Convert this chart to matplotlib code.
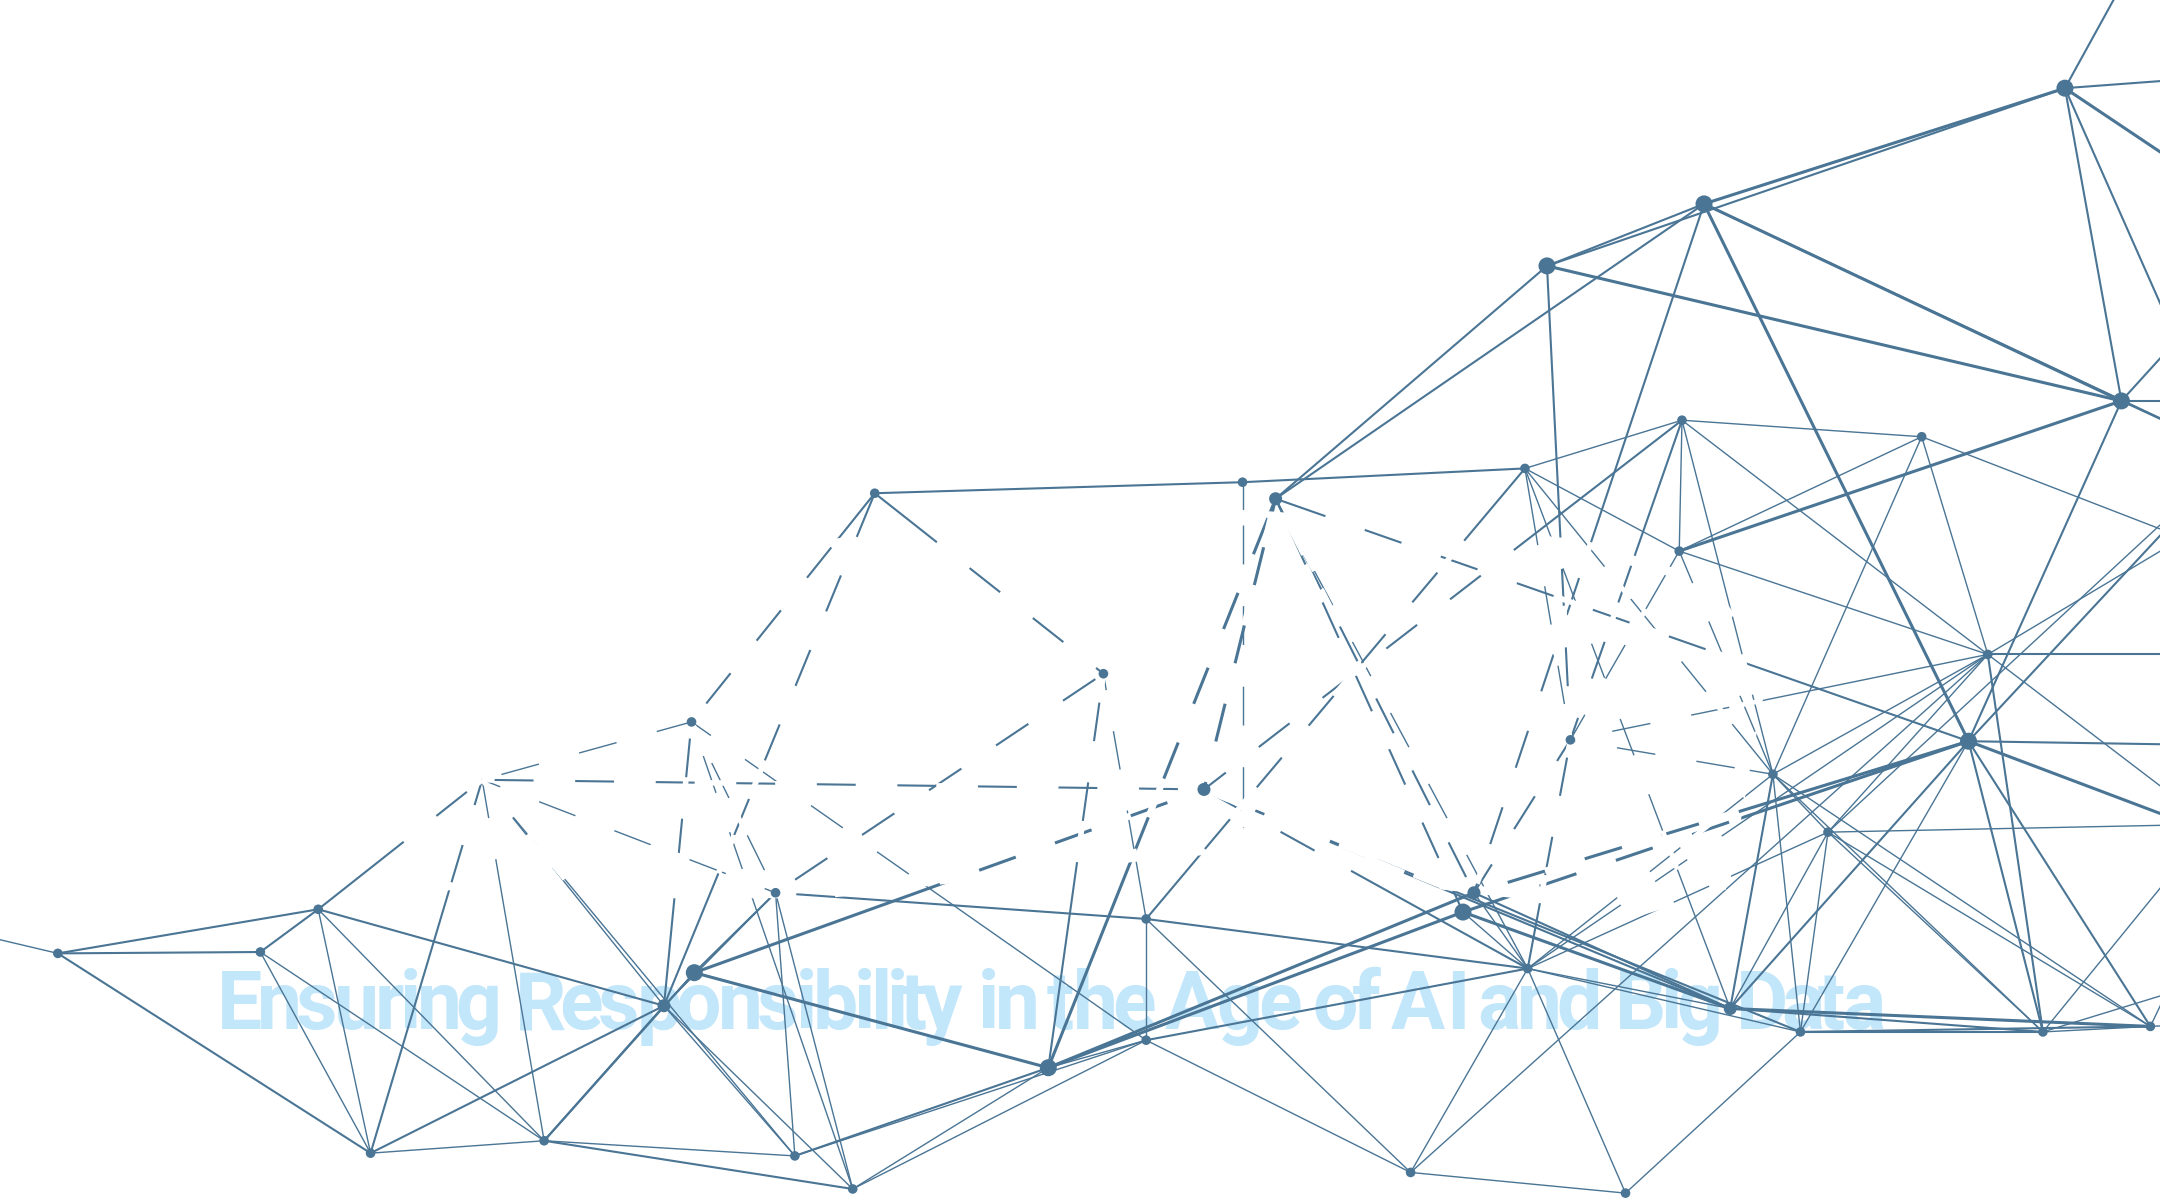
import numpy as np
import matplotlib
matplotlib.use('Agg')
import matplotlib.pyplot as plt
from matplotlib.patches import Polygon
from matplotlib.font_manager import FontProperties, findfont, get_font
from matplotlib import ft2font

plt.rcParams['lines.scale_dashes'] = False

# ---------------- data (coordinates in a 1568 x 871 canvas, y downward) ----------------
node_x = [1499, 1237, 1123, 1540, 1221, 1395, 1107, 902, 926, 635,
          1219, 1443, 801, 502, 1429, 1140, 1287, 350, 874, 1327,
          563, 1070, 1062, 231, 189, 42, 832, 504, 1109, 482,
          1256, 1307, 1483, 1561, 761, 832, 269, 395, 577, 619,
          1024, 1180, 902,
          1548, 1620, 1620, 1580, 1620, 1620, 1620, 1620, 1620, 1620,
          1620, 1620, 1620, 1620, 1620, 1585, 1620, -30]
node_y = [64, 148, 193, 291, 305, 317, 340, 350, 362, 358,
          400, 475, 489, 524, 538, 537, 562, 566, 573, 604,
          648, 648, 662, 660, 691, 692, 667, 706, 703, 730,
          732, 749, 749, 745, 775, 755, 837, 828, 839, 863,
          851, 866, 600,
          -25, 55, 145, 247, 291, 328, 404, 333, 369, 475,
          541, 610, 598, 581, 707, 695, 742, 675]
node_kind = ['l', 'l', 'l', 'l', 's', 's', 's', 's', 'm', 's',
             's', 's', 's', 's', 'l', 's', 's', 'h', 'm', 's',
             's', 'm', 'l', 's', 's', 's', 's', 'l', 's', 'm',
             'm', 's', 's', 's', 'l', 's', 's', 's', 's', 's',
             's', 's', 'h',
             'h', 'h', 'h', 'h', 'h', 'h', 'h', 'h', 'h', 'h',
             'h', 'h', 'h', 'h', 'h', 'h', 'h', 'h']

edge_a = [0, 0, 0, 0, 0, 0, 0,
          1, 1, 1, 1, 1, 1,
          2, 2, 2,
          3, 3, 3, 3, 3,
          4, 4, 4, 4, 4, 4, 4,
          5, 5, 5, 5,
          6, 6, 6, 6, 6, 6,
          7, 7,
          8, 8, 8, 8, 8, 8,
          9, 9, 9,
          10, 10, 10,
          11, 11, 11, 11, 11, 11, 11, 11, 11,
          12, 12, 12,
          13, 13, 13, 13, 13,
          14, 14, 14, 14, 14, 14, 14, 14, 14,
          15, 15, 15,
          16, 16, 16, 16, 16, 16,
          17, 17, 17, 17, 17, 17, 17,
          18, 18, 18, 18,
          19, 19, 19, 19, 19, 19, 19,
          20, 20, 20, 20, 20,
          21, 21, 21,
          22, 22, 22,
          23, 23, 23, 23, 23,
          24, 24, 24,
          25, 25,
          26, 26, 26,
          27, 27, 27,
          28, 28, 28, 28, 28,
          29, 29, 29, 29,
          30, 30,
          31, 31, 31,
          32, 32, 32,
          33, 33,
          34, 34, 34,
          35, 35, 35,
          36, 37, 37, 40]
edge_b = [43, 44, 45, 46, 3, 1, 2,
          2, 3, 48, 8, 14, 21,
          3, 8, 15,
          46, 47, 48, 10, 14,
          5, 6, 10, 11, 15, 16, 18,
          10, 16, 11, 49,
          7, 10, 15, 16, 26, 30,
          9, 42,
          14, 21, 22, 28, 18, 34,
          13, 12, 29,
          11, 15, 16,
          52, 51, 54, 16, 19, 32, 15, 40, 28,
          20, 26, 34,
          17, 20, 29, 35, 39,
          50, 53, 54, 33, 21, 22, 30, 31, 32,
          16, 28, 21,
          28, 30, 31, 32, 33, 19,
          18, 20, 29, 37, 38, 23, 36,
          27, 28, 30, 31,
          55, 32, 33, 31, 30, 50, 28,
          26, 38, 39, 27, 29,
          30, 28, 34,
          30, 28, 34,
          25, 24, 29, 36, 37,
          25, 36, 37,
          36, 60,
          28, 35, 40,
          34, 37, 29,
          30, 31, 35, 40, 41,
          36, 37, 38, 39,
          32, 33,
          32, 33, 41,
          33, 56, 57,
          58, 59,
          35, 38, 39,
          38, 39, 40,
          37, 38, 39, 41]
edge_w = [2, 2, 3, 2, 2, 3, 2,
          2, 3, 2, 2, 3, 2,
          3, 2, 2,
          2, 2, 2, 3, 2,
          1, 1, 1, 1, 2, 1, 2,
          1, 1, 1, 1,
          2, 1, 1, 1, 2, 1,
          2, 1,
          2, 2, 2, 1, 3, 3,
          2, 2, 2,
          1, 1, 1,
          2, 1, 1, 1, 1, 2, 1, 1, 1,
          2, 1, 2,
          1, 1, 2, 1, 1,
          2, 2, 3, 2, 3, 3, 2, 1, 2,
          1, 2, 2,
          1, 2, 1, 1, 1, 1,
          2, 1, 1, 1, 1, 2, 2,
          3, 2, 2, 2,
          1, 1, 1, 1, 1, 1, 1,
          2, 1, 1, 2, 1,
          2, 1, 3,
          3, 1, 3,
          2, 2, 2, 1, 1,
          2, 1, 1,
          2, 1,
          2, 1, 1,
          3, 2, 1,
          1, 1, 2, 1, 1,
          2, 2, 1, 1,
          2, 3,
          2, 2, 1,
          1, 1, 1,
          1, 1,
          1, 2, 1,
          1, 1, 1,
          1, 1, 2, 1]

# region in which the network is broken up by white shapes
gap_x = [250, 300, 400, 520, 600, 700, 900, 1000, 1150, 1240, 1285, 1270,
         1255, 1180, 1100, 1000, 900, 800, 700, 600, 450, 320]
gap_y = [612, 552, 530, 470, 392, 376, 370, 376, 392, 420, 480, 560,
         645, 668, 652, 640, 618, 628, 640, 652, 652, 646]

title = "Ensuring Responsibility in the Age of AI and Big Data"

# ---------------- figure ----------------
W, H = 1568.0, 871.0
SX = 2160.0 / W
LINE = '#4a7595'
TITLE_C = '#c2e6fa'

fig = plt.figure(figsize=(21.6, 12), dpi=100)
ax = fig.add_axes([0, 0, 1, 1])
ax.set_xlim(0, W)
ax.set_ylim(H, 0)
ax.axis('off')
fig.patch.set_facecolor('white')

# ---- title: letters set one by one with tight tracking (drawn under the network) ----
fs_pt = 58.0
fp = FontProperties(family='Roboto', weight='bold', size=fs_pt)
font = get_font(findfont(fp))
font.set_size(fs_pt, 100)
flag = ft2font.LoadFlags.NO_HINTING if hasattr(ft2font, 'LoadFlags') else ft2font.LOAD_NO_HINTING
adv, bear, wid = [], [], []
for ch in title:
    g = font.load_char(ord(ch), flags=flag)
    adv.append(g.linearHoriAdvance / 65536.0)
    bear.append(g.horiBearingX / 64.0)
    wid.append(g.width / 64.0)
ink_left, ink_right = 217.0, 1880.0
n = len(title)
x0 = ink_left - bear[0]
nat_last = x0 + sum(adv[:-1]) + bear[-1] + wid[-1]
track = (ink_right - nat_last) / (n - 1)
base_y = 1029.0 / SX
pos = x0
for i, ch in enumerate(title):
    if ch != ' ':
        ax.text((pos + bear[i]) / SX, base_y, ch, fontproperties=fp, color=TITLE_C,
                ha='left', va='baseline', zorder=0.5)
    pos += adv[i] + track

# ---- edges ----
lw_map = {1: 1.0, 2: 1.5, 3: 2.2}
for a, b, w in zip(edge_a, edge_b, edge_w):
    ax.plot([node_x[a], node_x[b]], [node_y[a], node_y[b]], color=LINE,
            lw=lw_map[w], solid_capstyle='round', zorder=1)

# ---- white break-up inside the central region ----
region = Polygon(np.column_stack([gap_x, gap_y]), closed=True, transform=ax.transData,
                 facecolor='none', edgecolor='none')
ax.add_patch(region)
for k, (a, b, w) in enumerate(zip(edge_a, edge_b, edge_w)):
    off = (k * 23) % 60
    ln, = ax.plot([node_x[a], node_x[b]], [node_y[a], node_y[b]], color='white',
                  lw=lw_map[w] + 2.5, linestyle=(off, (30, 28)),
                  solid_capstyle='butt', dash_capstyle='butt', zorder=2)
    ln.set_clip_path(region)

# ---- nodes ----
size_map = {'l': 150, 'm': 88, 's': 48}
for k in ['s', 'm', 'l']:
    xs = [x for x, t in zip(node_x, node_kind) if t == k]
    ys = [y for y, t in zip(node_y, node_kind) if t == k]
    ax.scatter(xs, ys, s=size_map[k], color=LINE, edgecolors='none', zorder=4)

fig.savefig('out.png', dpi=100, facecolor='white')
